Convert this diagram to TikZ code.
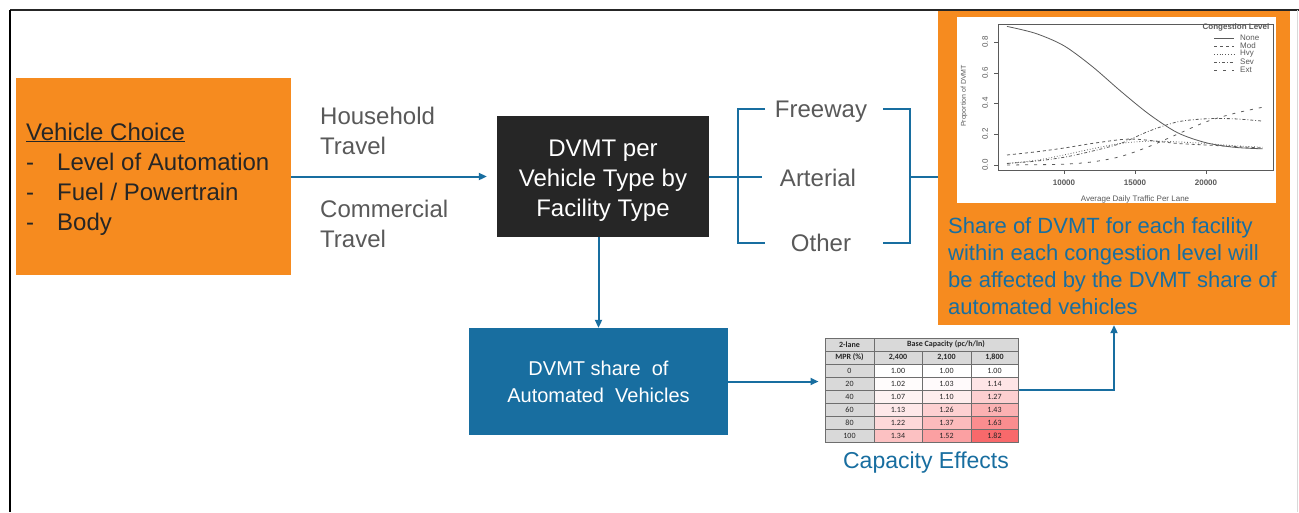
\documentclass[tikz,border=0pt]{standalone}
\usepackage{fontspec}
\setmainfont{Liberation Sans}
\newfontfamily\cellfont{Carlito}
\usetikzlibrary{arrows.meta}
\definecolor{vcorange}{RGB}{246,139,31}
\definecolor{vcblue}{RGB}{24,110,160}
\definecolor{vcdark}{RGB}{38,38,38}
\definecolor{vcgray}{RGB}{89,89,89}
\definecolor{cellgray}{RGB}{217,217,217}
\definecolor{cellline}{RGB}{110,110,110}
\definecolor{cellred}{RGB}{248,105,107}
\definecolor{plotgray}{RGB}{90,90,90}
\tikzset{
  bigtext/.style={font=\fontsize{24}{30}\selectfont},
  link/.style={draw=vcblue, line width=2pt},
  flow/.style={link, -{Triangle[length=8pt,width=7pt]}},
  roadlabel/.style={bigtext, text=vcgray, inner sep=0pt, anchor=base},
  cell/.style={draw=cellline, line width=0.5pt, inner sep=0pt, minimum height=13pt,
    font=\cellfont\fontsize{8}{9}\selectfont, text=vcdark},
  headcell/.style={cell, fill=cellgray, font=\cellfont\bfseries\fontsize{8}{9}\selectfont},
  curve/.style={plotgray, line width=0.8pt},
  tinytext/.style={font=\fontsize{8}{9}\selectfont, text=plotgray, inner sep=0pt}
}
\begin{document}
\begin{tikzpicture}[x=1pt,y=-1pt]
  \useasboundingbox[fill=white] (0,0) rectangle (1299,512);
  % left box: vehicle choice
  \node[fill=vcorange, minimum width=275pt, minimum height=197pt] (choice) at (153.5,176.5) {};
  \node[bigtext, text=vcdark, align=left, anchor=base west, inner sep=0pt] (choicetext) at (26,230)
    {\underline{Vehicle Choice}\\
     \makebox[31pt][l]{-}Level of Automation\\
     \makebox[31pt][l]{-}Fuel / Powertrain\\
     \makebox[31pt][l]{-}Body};
  % travel types
  \node[bigtext, text=vcgray, align=left, anchor=base west, inner sep=0pt] (household) at (320,154)
    {Household\\Travel};
  \node[bigtext, text=vcgray, align=left, anchor=base west, inner sep=0pt] (commercial) at (320,247)
    {Commercial\\Travel};
  % dvmt boxes
  \node[fill=vcdark, minimum width=212pt, minimum height=121pt] (dvmt) at (603,176.5) {};
  \node[text=white, bigtext, align=center, anchor=base, inner sep=0pt] (dvmttext)
    at (603,216.5) {DVMT per\\Vehicle Type by\\Facility Type};
  \node[fill=vcblue, text=white, font=\fontsize{20}{27}\selectfont, align=center,
    minimum width=259pt, minimum height=107pt] (share) at (598.5,381.5)
    {DVMT share\ \ of\\Automated\ \ Vehicles};
  \draw[flow, shorten >=10pt] (choice.east) -- (dvmt.west);
  \draw[flow] (share.north |- dvmt.south) -- (share.north);
  % facility types
  \node[roadlabel] (freeway) at (821,117) {Freeway};
  \node[roadlabel] (arterial) at (818,186.5) {Arterial};
  \node[roadlabel] (other) at (821,251.5) {Other};
  \coordinate (lb) at (738,177);
  \coordinate (rb) at (910,177);
  \draw[link] (dvmt.east |- lb) -- (762,177);
  \draw[link] (765,109) -| (lb) |- (765,243);
  \draw[link] (883,109) -| (rb) |- (883,243);
  % congestion box
  \node[fill=vcorange, minimum width=352pt, minimum height=315pt] (congestion) at (1114,167.5) {};
  \draw[link] (rb) -- (rb -| congestion.west);
  \fill[white] (957,17) rectangle (1276,203);
  \draw[plotgray, line width=0.7pt] (998,24) rectangle (1273,170);
  \foreach \t/\xx in {10000/1064,15000/1135,20000/1206}{
    \draw[plotgray, line width=0.6pt] (\xx,170) -- (\xx,174);
    \node[tinytext] (xt\t) at (\xx,183) {\textbf{\t}};
  }
  \foreach \v/\yy in {0.0/165,0.2/134,0.4/103,0.6/73,0.8/42}{
    \draw[plotgray, line width=0.6pt] (998,\yy) -- (994,\yy);
    \node[tinytext, rotate=90] (yt\v) at (985,\yy) {\v};
  }
  \node[tinytext] (xlabel) at (1135,199) {Average Daily Traffic Per Lane};
  \node[tinytext, font=\fontsize{7}{8}\selectfont, rotate=90] (ylabel) at (964,96) {Proportion of DVMT};
  \node[tinytext] (legtitle) at (1236,27) {\textbf{Congestion Level}};
  \foreach \lab/\pat [count=\i] in {None/solid,Mod/dashed,Hvy/dotted,Sev/dash dot,Ext/loosely dashed}{
    \draw[curve, \pat] (1214,30+8*\i) -- (1234,30+8*\i);
    \node[tinytext, anchor=west] (leg\i) at (1240,30+8*\i) {\lab};
  }
  \begin{scope}[shift={(921.8pt,-165pt)}, x=14.2pt, y=154pt]
    \draw[curve] plot[smooth] coordinates {(6,0.9) (8,0.855) (10,0.775) (12,0.64) (14,0.48)
      (16,0.33) (18,0.21) (20,0.145) (22,0.115) (24,0.105)};
    \draw[curve, dashed] plot[smooth] coordinates {(6,0.065) (8,0.085) (10,0.11) (12,0.14)
      (14,0.165) (15,0.168) (16,0.16) (18,0.14) (20,0.13) (22,0.12) (24,0.11)};
    \draw[curve, dotted] plot[smooth] coordinates {(6,0.01) (8,0.03) (10,0.065) (12,0.105)
      (14,0.14) (16,0.155) (18,0.15) (20,0.14) (22,0.125) (24,0.115)};
    \draw[curve, dash dot] plot[smooth] coordinates {(6,0.01) (8,0.025) (10,0.05) (12,0.09)
      (14,0.14) (16,0.22) (18,0.28) (20,0.3) (22,0.3) (24,0.285)};
    \draw[curve, loosely dashed] plot[smooth] coordinates {(6,0.0) (8,0.002) (10,0.005) (12,0.02)
      (14,0.055) (16,0.12) (18,0.2) (20,0.28) (22,0.335) (24,0.375)};
  \end{scope}
  \node[font=\fontsize{22}{27}\selectfont, text=vcblue, align=left, anchor=base west, inner sep=0pt]
    (congestiontext) at (948,314)
    {Share of DVMT for each facility\\
     within each congestion level will\\
     be affected by the DVMT share of\\
     automated vehicles};
  % capacity table
  \node[headcell, minimum width=49pt] (lane) at (849.5,344.5) {2-lane};
  \node[headcell, minimum width=144pt] (base) at (946,344.5) {Base Capacity (pc/h/ln)};
  \node[headcell, minimum width=49pt] (mpr) at (849.5,357.5) {MPR (\%)};
  \node[headcell, minimum width=48pt] (cap1) at (898,357.5) {2,400};
  \node[headcell, minimum width=49pt] (cap2) at (946.5,357.5) {2,100};
  \node[headcell, minimum width=47pt] (cap3) at (994.5,357.5) {1,800};
  \foreach \m/\a/\b/\c [count=\i] in {0/1.00/1.00/1.00, 20/1.02/1.03/1.14, 40/1.07/1.10/1.27,
      60/1.13/1.26/1.43, 80/1.22/1.37/1.63, 100/1.34/1.52/1.82}{
    \pgfmathsetmacro\yy{357.5+13*\i}
    \pgfmathtruncatemacro\pa{(\a-1)*122}
    \pgfmathtruncatemacro\pb{(\b-1)*122}
    \pgfmathtruncatemacro\pc{(\c-1)*122}
    \node[cell, fill=cellgray, minimum width=49pt] (m\i) at (849.5,\yy) {\m};
    \node[cell, fill=cellred!\pa!white, minimum width=48pt] (a\i) at (898,\yy) {\a};
    \node[cell, fill=cellred!\pb!white, minimum width=49pt] (b\i) at (946.5,\yy) {\b};
    \node[cell, fill=cellred!\pc!white, minimum width=47pt] (c\i) at (994.5,\yy) {\c};
  }
  \node[draw=cellline, line width=1pt, minimum width=193pt, minimum height=104pt, inner sep=0pt]
    (tbl) at (921.5,390) {};
  \node[font=\fontsize{23}{27}\selectfont, text=vcblue] (capacity) at (926,463) {Capacity Effects};
  \draw[flow] (share.east) -- ([xshift=-6pt]share.east -| tbl.west);
  \draw[flow] (tbl.east) -| (congestion.south);
  % frame
  \draw[vcdark, line width=2.5pt] (10,10) -- (1299,10);
  \draw[black, line width=1.5pt] (10,10) -- (10,512);
  \draw[gray!30, line width=1pt] (1297,10) -- (1297,512);
\end{tikzpicture}
\end{document}
